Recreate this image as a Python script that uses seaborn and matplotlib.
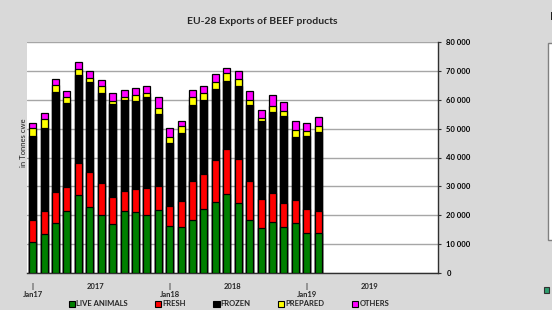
import numpy as np
import pandas as pd
import matplotlib
matplotlib.use("Agg")
import matplotlib.pyplot as plt
from matplotlib.patches import Rectangle, Patch
import matplotlib.ticker as mticker
import seaborn as sns

# months Jan17 .. Feb19 (26 values, tonnes cwe)
months = ["Jan17", "Feb17", "Mar17", "Apr17", "May17", "Jun17", "Jul17", "Aug17", "Sep17",
          "Oct17", "Nov17", "Dec17", "Jan18", "Feb18", "Mar18", "Apr18", "May18", "Jun18",
          "Jul18", "Aug18", "Sep18", "Oct18", "Nov18", "Dec18", "Jan19", "Feb19"]
live_animals = [10700, 13500, 17300, 21300, 26900, 22700, 20000, 16900, 21600, 21200, 20000, 21800,
                16200, 16000, 18400, 22100, 24700, 27300, 24200, 18300, 15500, 17600, 15900, 17300,
                13800, 13700]
fresh = [7700, 8100, 10600, 8600, 11200, 12300, 11000, 9300, 6900, 8000, 9600, 8500,
         7100, 8900, 13500, 12300, 14400, 15700, 15300, 13700, 10200, 10000, 8300, 8000,
         8400, 7900]
frozen = [29100, 28600, 34700, 29000, 30300, 31000, 31200, 32300, 31400, 30400, 31200, 24800,
          21700, 23700, 26300, 25500, 24700, 23500, 25200, 26100, 26800, 28200, 30100, 21800,
          25300, 27300]
prepared = [2800, 3100, 2400, 2100, 2400, 1700, 2500, 1100, 1100, 1900, 1700, 2100,
            2200, 2300, 2700, 2600, 2300, 2600, 2600, 1900, 1100, 2000, 1800, 2300,
            1700, 1900]
others = [1700, 2200, 2200, 2200, 2200, 2200, 2200, 2600, 2500, 2700, 2300, 3600,
          2900, 1800, 2400, 2400, 2700, 1900, 2800, 3200, 2700, 3900, 3100, 3100,
          2900, 3100]

series_names = ["LIVE ANIMALS", "FRESH", "FROZEN", "PREPARED", "OTHERS"]
series_colors = ["#008000", "#ff0000", "#000000", "#ffff00", "#ff00ff"]
year_labels = ["2017", "2018", "2019"]

df = pd.DataFrame({"month": months, "LIVE ANIMALS": live_animals, "FRESH": fresh,
                   "FROZEN": frozen, "PREPARED": prepared, "OTHERS": others})
cum = df[series_names].cumsum(axis=1)

sns.set_style("white")
plt.rcParams['font.family'] = ['Lato', 'DejaVu Sans']
bg = "#d9d9d9"

fig = plt.figure(figsize=(5.52, 3.10), dpi=100, facecolor=bg)
ax = fig.add_axes([27 / 552, 1 - 273 / 310, 411 / 552, 231 / 310])
ax.set_facecolor("white")

# stacked bars: draw cumulative totals, tallest first
for name, color in reversed(list(zip(series_names, series_colors))):
    sns.barplot(x=df["month"], y=cum[name], color=color, edgecolor="black",
                linewidth=0.9, width=0.62, saturation=1, ax=ax, zorder=3)

ax.set_xlim(-0.5, 35.5)
ax.set_ylim(0, 80000)
ax.grid(axis="y", color="#a6a6a6", linewidth=1.0, zorder=0)
ax.set_axisbelow(True)

ax.spines["left"].set_visible(False)
ax.spines["top"].set_visible(False)
ax.spines["right"].set_color("#303030")
ax.spines["bottom"].set_color("#303030")
ax.spines["right"].set_linewidth(1.0)
ax.spines["bottom"].set_linewidth(1.0)

ax.yaxis.tick_right()
ax.yaxis.set_major_locator(mticker.MultipleLocator(10000))
ax.yaxis.set_major_formatter(mticker.FuncFormatter(lambda v, p: f"{int(v):,}".replace(",", " ")))
ax.tick_params(axis="y", which="major", direction="out", length=2, width=0.8, pad=4,
               labelsize=5.5, colors="#303030", labelcolor="black")
for lab in ax.get_yticklabels():
    lab.set_fontweight("bold")

ax.set_xticks(np.arange(-0.5, 36, 1), minor=True)
ax.set_xticks([0, 5.5, 12, 17.5, 24, 29.5])
ax.set_xticklabels(["|\nJan17", year_labels[0], "|\nJan18", year_labels[1], "|\nJan19", year_labels[2]],
                   fontsize=5.5, fontweight="bold", linespacing=1.2)
ax.tick_params(axis="x", which="major", length=0, pad=7)
ax.tick_params(axis="x", which="minor", direction="out", length=2.5, width=0.8, colors="#303030")
ax.set_xlabel("")
ax.set_ylabel("")

fig.text(24 / 552, 1 - 143 / 310, "in Tonnes cwe", rotation=90, ha="center", va="center",
         fontsize=5.5, color="#202020")
fig.text(262 / 552, 1 - 21 / 310, "EU-28 Exports of BEEF products", ha="center", va="center",
         fontsize=7.5, fontweight="bold")

handles = [Patch(facecolor=c, edgecolor="black", linewidth=0.8) for c in series_colors]
leg = fig.legend(handles, series_names, loc="center", bbox_to_anchor=(229 / 552, 1 - 304 / 310),
                 ncol=5, frameon=False, fontsize=5.5, handlelength=0.8, handleheight=0.8,
                 handletextpad=0.15, columnspacing=3.6, borderaxespad=0)
for t in leg.get_texts():
    t.set_fontweight("bold")

# edge of neighbouring chart (cut off by the picture border)
fig.patches.append(Rectangle((548 / 552, 1 - 240 / 310), 10 / 552, 197 / 310,
                             transform=fig.transFigure, facecolor="white", edgecolor="#808080",
                             linewidth=1.0, figure=fig))
fig.patches.append(Rectangle((544 / 552, 1 - 293 / 310), 5 / 552, 6 / 310,
                             transform=fig.transFigure, facecolor="#2e9e6e", edgecolor="#303030",
                             linewidth=0.8, figure=fig))
fig.patches.append(Rectangle((550.5 / 552, 1 - 20 / 310), 2 / 552, 8 / 310,
                             transform=fig.transFigure, facecolor="#202020", edgecolor="none",
                             figure=fig))

fig.savefig("out.png", dpi=100, facecolor=bg)
